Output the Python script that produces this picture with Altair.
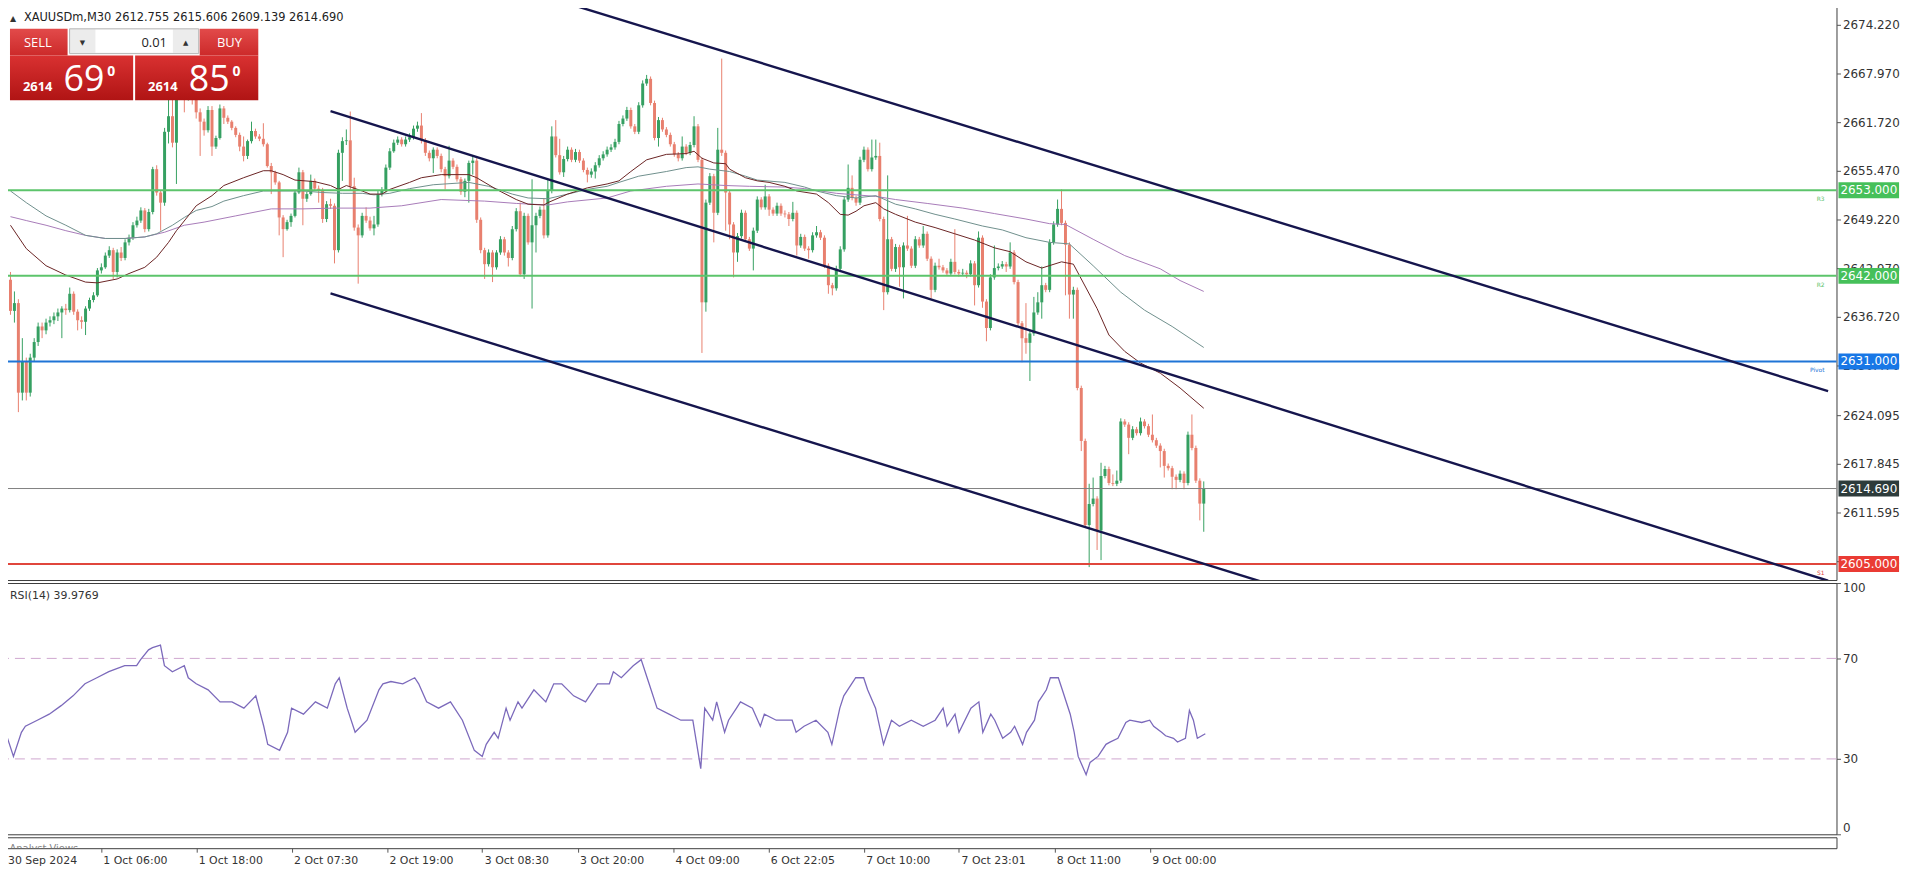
import altair as alt
import pandas as pd

FONT = "DejaVu Sans"
UIFONT = "Open Sans"

# ---------------- data ----------------
first_open = 2641.5
closes = [
    2637.5, 2638.5, 2627.0, 2631.0, 2627.0, 2631.5, 2633.5, 2635.5, 2635.0, 2636.0,
    2636.3, 2636.8, 2637.3, 2637.8, 2637.6, 2639.7, 2637.4, 2636.3, 2636.1, 2637.8,
    2638.9, 2639.5, 2642.7, 2643.1, 2644.6, 2645.3, 2642.5, 2645.0, 2644.3, 2646.3,
    2646.9, 2648.5, 2649.1, 2650.4, 2648.0, 2650.2, 2655.7, 2652.7, 2651.4, 2660.5,
    2662.5, 2659.1, 2665.5, 2666.5, 2665.5, 2666.0, 2665.0, 2663.0, 2661.8, 2660.7,
    2663.3, 2658.6, 2659.7, 2663.5, 2662.3, 2661.8, 2661.0, 2660.1, 2658.6, 2657.4,
    2659.3, 2660.6, 2659.9, 2659.6, 2658.9, 2656.1, 2655.3, 2654.0, 2649.5, 2648.0,
    2648.9, 2649.7, 2652.7, 2655.3, 2651.9, 2652.5, 2654.2, 2653.2, 2653.0, 2649.3,
    2651.2, 2651.0, 2645.3, 2657.8, 2659.3, 2659.4, 2653.5, 2648.2, 2647.2, 2649.7,
    2649.1, 2648.1, 2648.6, 2652.5, 2653.0, 2655.9, 2658.0, 2659.1, 2659.5, 2658.9,
    2659.5, 2659.8, 2660.9, 2661.3, 2659.4, 2657.8, 2657.1, 2658.2, 2657.4, 2655.7,
    2654.8, 2656.8, 2656.0, 2654.4, 2652.8, 2654.2, 2656.5, 2656.8, 2649.2, 2645.3,
    2643.5, 2645.0, 2643.1, 2645.0, 2646.7, 2645.0, 2644.3, 2648.0, 2650.3, 2642.2,
    2649.7, 2646.3, 2648.5, 2649.7, 2650.5, 2647.2, 2652.9, 2659.9, 2657.5, 2655.3,
    2657.0, 2658.2, 2656.9, 2657.9, 2656.8, 2655.6, 2655.0, 2655.4, 2656.2, 2657.1,
    2657.6, 2658.2, 2658.5, 2659.2, 2661.5, 2662.2, 2663.3, 2661.2, 2660.5, 2663.9,
    2666.7, 2667.3, 2664.2, 2659.7, 2662.0, 2660.8, 2660.1, 2658.9, 2657.6, 2657.1,
    2658.6, 2657.8, 2658.8, 2661.2, 2656.9, 2638.6, 2651.4, 2654.8, 2650.1, 2658.2,
    2657.8, 2652.7, 2648.6, 2645.0, 2647.1, 2650.1, 2646.7, 2645.5, 2647.8, 2651.8,
    2650.8, 2652.2, 2650.5, 2650.0, 2651.0, 2650.0, 2649.9, 2649.3, 2650.1, 2645.9,
    2647.0, 2645.5, 2645.3, 2647.2, 2647.6, 2646.9, 2643.3, 2640.8, 2640.4, 2642.9,
    2645.4, 2651.8, 2653.3, 2652.0, 2651.4, 2656.9, 2658.2, 2655.7, 2657.2, 2657.4,
    2649.3, 2639.9, 2646.7, 2642.9, 2645.7, 2643.1, 2645.9, 2645.5, 2643.3, 2646.7,
    2645.9, 2647.4, 2644.2, 2640.2, 2643.3, 2643.1, 2642.7, 2642.3, 2643.8, 2642.5,
    2642.3, 2642.4, 2642.2, 2643.6, 2640.8, 2646.9, 2638.7, 2635.3, 2641.8, 2643.0,
    2643.2, 2643.5, 2643.2, 2645.0, 2641.2, 2635.9, 2634.0, 2633.4, 2634.6, 2637.3,
    2638.6, 2640.8, 2640.2, 2646.3, 2648.6, 2650.6, 2648.8, 2646.0, 2639.6, 2640.2,
    2627.6, 2620.8, 2610.0, 2612.7, 2613.4, 2609.3, 2616.3, 2617.2, 2615.4, 2615.3,
    2615.7, 2623.3, 2622.9, 2621.2, 2622.3, 2621.8, 2623.3, 2622.7, 2621.6, 2620.9,
    2620.2, 2619.5, 2617.6, 2617.3, 2616.2, 2615.8, 2616.6, 2615.4, 2621.6, 2619.9,
    2615.7, 2612.755, 2614.69,
]
highs = [
    2642.5, 2640.0, 2639.0, 2634.0, 2631.5, 2632.0, 2634.0, 2636.0, 2636.0, 2636.5,
    2636.8, 2637.3, 2637.8, 2638.1, 2638.4, 2640.5, 2640.0, 2637.7, 2636.8, 2638.1,
    2639.2, 2639.9, 2643.0, 2643.6, 2645.0, 2645.8, 2645.6, 2645.4, 2645.7, 2646.7,
    2647.3, 2648.9, 2649.6, 2650.8, 2650.7, 2650.6, 2656.0, 2656.2, 2653.0, 2661.0,
    2665.5, 2666.0, 2666.5, 2667.5, 2667.0, 2667.0, 2666.8, 2665.5, 2663.5, 2662.2,
    2663.8, 2663.8, 2660.0, 2664.0, 2663.8, 2662.6, 2662.0, 2661.2, 2660.4, 2659.9,
    2659.5, 2661.8, 2660.9, 2660.2, 2661.6, 2659.1, 2656.5, 2655.5, 2654.2, 2649.8,
    2649.2, 2650.0, 2653.0, 2655.9, 2655.6, 2652.8, 2655.0, 2654.5, 2653.6, 2653.3,
    2651.6, 2651.9, 2651.3, 2658.2, 2659.8, 2660.8, 2663.1, 2654.6, 2648.6, 2650.1,
    2650.8, 2649.6, 2649.7, 2652.9, 2653.4, 2656.3, 2658.4, 2659.5, 2659.9, 2659.8,
    2659.9, 2660.3, 2661.3, 2661.8, 2662.9, 2659.7, 2658.1, 2658.5, 2658.5, 2657.7,
    2656.0, 2658.7, 2657.1, 2656.3, 2654.7, 2654.5, 2656.8, 2657.4, 2657.1, 2649.5,
    2645.6, 2645.4, 2645.3, 2645.3, 2647.1, 2647.0, 2645.3, 2648.4, 2650.7, 2651.4,
    2650.1, 2650.0, 2654.4, 2650.1, 2650.9, 2652.0, 2654.4, 2661.2, 2662.0, 2659.6,
    2657.4, 2658.6, 2658.5, 2658.3, 2658.2, 2657.1, 2655.9, 2655.8, 2656.6, 2657.5,
    2658.0, 2658.6, 2658.9, 2659.6, 2661.9, 2662.6, 2663.7, 2663.6, 2661.5, 2664.3,
    2667.1, 2667.8, 2667.6, 2664.5, 2662.4, 2662.3, 2661.1, 2660.4, 2659.2, 2657.9,
    2659.9, 2658.9, 2659.2, 2662.5, 2661.5, 2657.2, 2651.8, 2655.2, 2655.1, 2661.0,
    2669.9, 2658.1, 2653.0, 2648.9, 2647.5, 2650.5, 2650.4, 2647.0, 2648.2, 2652.2,
    2652.1, 2653.7, 2652.5, 2650.8, 2651.4, 2651.3, 2650.4, 2650.2, 2651.5, 2650.4,
    2647.4, 2647.3, 2645.8, 2647.6, 2648.4, 2647.9, 2647.2, 2643.6, 2641.1, 2643.3,
    2645.8, 2652.2, 2656.3, 2654.9, 2652.3, 2657.3, 2658.6, 2658.5, 2659.5, 2659.5,
    2659.1, 2649.6, 2654.9, 2647.0, 2646.1, 2646.0, 2646.3, 2649.7, 2645.8, 2647.1,
    2647.0, 2648.4, 2647.7, 2644.5, 2643.7, 2644.2, 2643.4, 2643.0, 2644.2, 2648.0,
    2642.8, 2642.9, 2642.7, 2644.0, 2643.9, 2647.7, 2647.2, 2639.0, 2642.2, 2645.9,
    2643.6, 2643.9, 2643.8, 2646.3, 2645.3, 2641.5, 2636.2, 2638.5, 2635.0, 2639.3,
    2639.9, 2643.2, 2641.1, 2646.7, 2649.0, 2651.8, 2653.1, 2649.1, 2646.3, 2640.6,
    2640.5, 2627.9, 2621.1, 2615.3, 2616.1, 2613.7, 2618.0, 2617.6, 2617.5, 2616.5,
    2617.0, 2623.7, 2623.6, 2623.2, 2622.7, 2622.6, 2623.8, 2623.6, 2623.0, 2624.2,
    2621.2, 2620.5, 2619.8, 2617.9, 2617.6, 2616.5, 2617.0, 2616.9, 2622.0, 2624.2,
    2620.2, 2616.0, 2615.606,
]
lows = [
    2637.0, 2636.0, 2624.5, 2626.0, 2626.0, 2626.5, 2631.0, 2633.0, 2634.0, 2634.5,
    2635.5, 2635.8, 2636.2, 2634.0, 2637.0, 2637.3, 2637.0, 2635.0, 2635.2, 2634.4,
    2637.5, 2638.6, 2639.3, 2642.3, 2642.9, 2644.3, 2641.6, 2641.8, 2643.9, 2644.0,
    2645.9, 2646.6, 2648.2, 2648.8, 2647.6, 2647.7, 2649.9, 2652.3, 2647.8, 2651.0,
    2659.0, 2658.5, 2653.8, 2665.0, 2663.0, 2664.5, 2664.0, 2662.2, 2657.4, 2660.0,
    2660.4, 2657.4, 2658.3, 2659.5, 2661.5, 2661.5, 2660.7, 2659.8, 2658.0, 2656.7,
    2657.0, 2659.0, 2659.6, 2659.3, 2658.6, 2655.9, 2652.5, 2653.7, 2647.2, 2644.4,
    2647.8, 2648.3, 2649.5, 2652.5, 2648.5, 2651.5, 2652.3, 2652.9, 2651.4, 2648.8,
    2648.9, 2650.6, 2643.6, 2645.0, 2654.2, 2658.8, 2653.0, 2647.8, 2641.0, 2646.9,
    2648.8, 2647.8, 2647.2, 2648.3, 2652.2, 2652.7, 2655.6, 2657.8, 2658.8, 2658.6,
    2658.6, 2659.2, 2659.5, 2660.5, 2659.0, 2657.4, 2656.7, 2655.2, 2657.1, 2655.3,
    2653.1, 2654.5, 2655.7, 2654.1, 2652.4, 2652.1, 2651.4, 2655.0, 2648.8, 2644.9,
    2641.6, 2643.2, 2641.2, 2642.8, 2644.7, 2644.6, 2643.2, 2644.0, 2647.7, 2641.9,
    2641.6, 2646.0, 2637.8, 2645.0, 2649.4, 2646.8, 2646.9, 2652.6, 2657.2, 2655.0,
    2654.7, 2656.7, 2656.6, 2656.6, 2656.5, 2655.3, 2654.0, 2654.6, 2654.5, 2655.9,
    2656.8, 2657.3, 2657.9, 2658.2, 2658.9, 2661.2, 2661.9, 2660.9, 2660.2, 2660.2,
    2663.6, 2666.4, 2663.9, 2659.4, 2658.6, 2660.5, 2659.8, 2658.6, 2657.3, 2656.7,
    2656.8, 2657.5, 2657.5, 2658.5, 2656.6, 2632.1, 2637.4, 2651.1, 2646.3, 2649.8,
    2657.4, 2647.8, 2646.7, 2641.8, 2643.8, 2646.8, 2646.4, 2645.2, 2642.7, 2647.5,
    2650.5, 2650.5, 2649.7, 2649.7, 2649.7, 2649.7, 2649.5, 2648.4, 2649.0, 2644.6,
    2645.6, 2645.2, 2644.2, 2645.0, 2646.9, 2646.6, 2643.0, 2639.7, 2639.5, 2640.1,
    2642.6, 2645.1, 2651.5, 2651.7, 2651.0, 2651.1, 2656.6, 2655.4, 2655.4, 2656.9,
    2649.0, 2637.6, 2639.6, 2642.6, 2642.5, 2640.6, 2639.1, 2645.2, 2643.0, 2643.0,
    2645.6, 2645.6, 2643.9, 2639.1, 2639.9, 2642.8, 2642.4, 2642.0, 2642.0, 2642.2,
    2641.9, 2642.0, 2641.7, 2641.9, 2638.2, 2640.5, 2637.9, 2633.6, 2635.0, 2641.5,
    2642.7, 2642.9, 2642.5, 2642.9, 2640.9, 2635.6, 2630.9, 2632.0, 2628.5, 2634.3,
    2637.0, 2636.5, 2639.9, 2639.9, 2646.0, 2648.3, 2648.5, 2639.5, 2636.5, 2636.5,
    2627.3, 2619.5, 2609.7, 2604.6, 2612.4, 2606.8, 2605.5, 2616.0, 2615.1, 2615.0,
    2615.0, 2615.4, 2622.6, 2619.1, 2620.9, 2621.5, 2621.5, 2622.4, 2621.3, 2620.6,
    2619.9, 2617.4, 2616.1, 2617.0, 2614.6, 2614.6, 2615.5, 2614.6, 2615.1, 2619.6,
    2615.4, 2610.6, 2609.139,
]

# moving averages: (candle index, value)
ma_fast = [(0, 2648.5), (4, 2645.5), (9, 2643.3), (14, 2642.1), (19, 2641.2), (22, 2641.1),
           (27, 2641.6), (30, 2642.3), (34, 2643.1), (37, 2644.4), (40, 2646.3), (42, 2647.8),
           (45, 2649.7), (47, 2651.0), (51, 2652.3), (54, 2653.6), (59, 2654.6), (64, 2655.5),
           (66, 2655.5), (69, 2655.0), (72, 2654.3), (77, 2654.1), (81, 2653.6), (83, 2653.1),
           (85, 2653.6), (89, 2652.9), (91, 2652.5), (94, 2652.5), (96, 2653.1), (101, 2654.0),
           (104, 2654.6), (109, 2655.0), (116, 2655.0), (118, 2654.6), (123, 2653.1),
           (128, 2651.8), (131, 2651.2), (135, 2651.1), (136, 2651.4), (141, 2652.5),
           (146, 2653.3), (151, 2653.8), (154, 2654.2), (157, 2655.4), (161, 2656.9),
           (166, 2657.6), (171, 2657.7), (173, 2658.0), (175, 2657.1), (178, 2656.5),
           (181, 2656.4), (182, 2655.7), (186, 2654.6), (189, 2654.2), (192, 2654.0),
           (196, 2653.5), (199, 2652.9), (204, 2652.5), (207, 2651.4), (210, 2649.9),
           (212, 2649.8), (214, 2650.3), (216, 2651.0), (219, 2651.4), (221, 2650.6),
           (224, 2649.9), (229, 2648.9), (234, 2648.2), (239, 2647.4), (244, 2646.6),
           (249, 2645.6), (253, 2645.1), (257, 2643.8), (261, 2643.0), (266, 2643.8),
           (269, 2643.5), (271, 2641.6), (275, 2637.8), (278, 2634.4), (282, 2632.3),
           (286, 2630.8), (291, 2629.5), (296, 2627.6), (302, 2625.0)]
ma_mid = [(0, 2652.9), (4, 2651.4), (9, 2649.7), (14, 2648.5), (19, 2647.2), (24, 2646.8),
          (29, 2646.8), (34, 2647.0), (37, 2647.4), (41, 2648.5), (44, 2649.5), (47, 2650.4),
          (51, 2650.9), (54, 2651.6), (59, 2652.3), (64, 2652.9), (74, 2652.9), (79, 2652.7),
          (84, 2652.6), (89, 2652.6), (92, 2652.4), (96, 2652.6), (101, 2653.2), (107, 2653.7),
          (116, 2654.0), (121, 2653.5), (127, 2652.5), (131, 2652.0), (136, 2651.9),
          (141, 2652.5), (146, 2653.1), (151, 2653.5), (154, 2654.0), (159, 2654.8),
          (166, 2655.4), (171, 2655.9), (174, 2656.0), (177, 2655.7), (182, 2655.4),
          (186, 2654.8), (189, 2654.3), (196, 2654.0), (201, 2653.4), (204, 2652.9),
          (209, 2652.3), (214, 2652.0), (219, 2652.3), (224, 2651.2), (229, 2650.6),
          (234, 2649.9), (239, 2649.3), (246, 2648.4), (251, 2647.9), (257, 2646.9),
          (263, 2646.3), (268, 2646.1), (274, 2643.3), (281, 2639.9), (287, 2637.6),
          (294, 2635.5), (302, 2632.8)]
ma_slow = [(0, 2649.6), (4, 2649.1), (9, 2648.5), (14, 2647.8), (19, 2647.2), (24, 2646.8),
           (29, 2646.8), (34, 2647.0), (39, 2647.6), (44, 2648.5), (49, 2648.9), (57, 2649.7),
           (66, 2650.6), (74, 2650.6), (82, 2650.7), (91, 2650.7), (99, 2651.0), (109, 2651.8),
           (120, 2651.6), (128, 2651.3), (136, 2651.1), (141, 2651.5), (151, 2652.0),
           (157, 2652.9), (166, 2653.5), (174, 2653.8), (181, 2653.6), (187, 2653.5),
           (196, 2653.4), (201, 2653.2), (209, 2652.6), (219, 2652.2), (224, 2651.8),
           (232, 2651.3), (241, 2650.7), (249, 2650.0), (257, 2649.3), (263, 2648.7),
           (267, 2648.6), (274, 2646.7), (282, 2644.6), (291, 2642.9), (296, 2641.4),
           (302, 2640.0)]

# RSI(14): (candle index, value)
rsi_pts = [(0, 40.6), (2, 31.0), (4, 40.6), (5, 43.0), (8, 45.4), (11, 47.8), (14, 51.2),
           (17, 55.1), (20, 59.9), (23, 62.3), (26, 64.7), (30, 67.1), (33, 67.1), (34, 69.5),
           (36, 73.4), (37, 74.3), (39, 75.3), (40, 67.1), (42, 64.7), (45, 67.1), (46, 62.3),
           (48, 59.9), (51, 57.5), (54, 52.7), (57, 52.7), (60, 50.2), (63, 55.1), (65, 43.0),
           (66, 35.8), (69, 33.4), (71, 40.6), (72, 50.2), (75, 47.8), (78, 52.7), (81, 50.2),
           (83, 59.9), (84, 62.3), (86, 50.2), (88, 40.6), (91, 45.4), (94, 57.5), (95, 59.9),
           (97, 60.8), (100, 59.9), (103, 62.3), (104, 59.9), (106, 52.7), (109, 50.2),
           (112, 52.7), (115, 45.4), (118, 33.4), (120, 31.0), (121, 35.8), (123, 40.6),
           (124, 38.2), (126, 50.2), (127, 45.4), (129, 52.7), (130, 50.2), (133, 57.5),
           (136, 52.7), (138, 59.9), (140, 59.9), (143, 55.1), (146, 52.7), (149, 59.9),
           (152, 59.9), (153, 64.7), (155, 62.3), (158, 67.1), (160, 69.5), (162, 59.9),
           (164, 50.2), (167, 47.8), (170, 45.4), (173, 45.4), (175, 26.1), (176, 50.2),
           (178, 45.4), (179, 52.7), (181, 40.6), (182, 45.4), (184, 50.2), (185, 52.7),
           (188, 50.2), (190, 43.0), (191, 47.8), (194, 45.4), (198, 45.4), (199, 40.6),
           (201, 43.0), (204, 45.4), (207, 40.6), (208, 35.8), (210, 50.2), (211, 55.1),
           (214, 62.3), (216, 62.3), (217, 57.5), (219, 50.2), (221, 35.8), (222, 40.6),
           (223, 45.4), (225, 43.0), (228, 45.4), (231, 43.0), (234, 45.4), (236, 50.2),
           (237, 43.0), (239, 47.8), (240, 40.6), (243, 50.2), (245, 52.7), (246, 40.6),
           (248, 47.8), (249, 45.4), (251, 38.2), (253, 40.6), (254, 43.0), (256, 35.8),
           (257, 40.6), (259, 45.4), (260, 52.7), (262, 57.5), (263, 62.3), (265, 62.3),
           (266, 57.5), (268, 47.8), (269, 40.6), (270, 31.0), (272, 23.7), (273, 28.6),
           (275, 31.0), (277, 35.8), (278, 36.7), (280, 38.2), (282, 44.5), (283, 45.4),
           (286, 44.5), (288, 45.4), (289, 43.0), (291, 40.6), (292, 39.2), (294, 38.2),
           (295, 36.7), (297, 38.2), (298, 49.3), (299, 45.4), (300, 38.2), (302, 40.0)]

levels = [2653.0, 2642.0, 2631.0, 2614.69, 2605.0]
level_text = ["2653.000", "2642.000", "2631.000", "2614.690", "2605.000"]
level_tags = ["R3", "R2", "Pivot", "", "S1"]
level_line_colors = ["#5cc46b", "#5cc46b", "#1f74d6", "#808080", "#e0463c"]
level_box_colors = ["#46c05a", "#46c05a", "#1877e6", "#2d3b3b", "#ea3b34"]
level_widths = [2, 2, 2, 1, 2]

channel_lines = {
    "upper": [(130, 2678.7), (460, 2627.2)],
    "middle": [(81, 2663.15), (460, 2602.85)],
    "lower": [(81, 2639.74), (320, 2602.2)],
}

price_ticks = [2674.22, 2667.97, 2661.72, 2655.47, 2649.22, 2642.97, 2636.72, 2630.47,
               2624.095, 2617.845, 2611.595, 2605.345]
rsi_ticks = [0, 30, 70, 100]
rsi_levels = [70, 30]
time_ticks = [0, 24, 48, 72, 96, 120, 144, 168, 192, 216, 240, 264, 288]
time_labels = ["30 Sep 2024", "1 Oct 06:00", "1 Oct 18:00", "2 Oct 07:30", "2 Oct 19:00",
               "3 Oct 08:30", "3 Oct 20:00", "4 Oct 09:00", "6 Oct 22:05", "7 Oct 10:00",
               "7 Oct 23:01", "8 Oct 11:00", "9 Oct 00:00"]

header = "XAUUSDm,M30 2612.755 2615.606 2609.139 2614.690"
rsi_title = "RSI(14) 39.9769"

# ---------------- build tables ----------------
GREEN = "#36a062"
RED = "#e8806f"
opens = [first_open] + closes[:-1]
cd = pd.DataFrame({"k": list(range(len(closes))), "o": opens, "c": closes,
                   "h": highs, "l": lows})
cd["col"] = [GREEN if c >= o else RED for o, c in zip(cd["o"], cd["c"])]

ma_rows = []
for name, pts, col in [("slow", ma_slow, "#a77bb8"), ("mid", ma_mid, "#6f8f8c"),
                       ("fast", ma_fast, "#6a2323")]:
    for k, v in pts:
        ma_rows.append({"ma": name, "k": k, "p": v, "col": col})
ma_df = pd.DataFrame(ma_rows)

ch_rows = []
for name, pts in channel_lines.items():
    for k, v in pts:
        ch_rows.append({"id": name, "k": k, "p": v})
ch_df = pd.DataFrame(ch_rows)

lv = pd.DataFrame({"p": levels, "txt": level_text, "tag": level_tags,
                   "lc": level_line_colors, "bc": level_box_colors, "w": level_widths})
rsi_df = pd.DataFrame(rsi_pts, columns=["k", "v"])
one = pd.DataFrame({"z": [0]})

# ---------------- scales / axes ----------------
W, HM, HR, HA = 1844, 577, 253, 11
xs = alt.Scale(domain=[-0.125, 460.875], nice=False, zero=False)
ys = alt.Scale(domain=[2602.94, 2676.53], nice=False, zero=False)
rs = alt.Scale(domain=[0, 100], nice=False, zero=False)

yaxis = alt.Axis(orient="right", values=price_ticks, format=".3f", labelFont=FONT,
                 labelFontSize=12, labelColor="#333333", tickColor="#555555", tickSize=4,
                 labelPadding=2, domain=False, grid=False, title=None, labelOverlap=False)
raxis = alt.Axis(orient="right", values=rsi_ticks, format="d", labelFont=FONT,
                 labelFontSize=12, labelColor="#333333", tickColor="#555555", tickSize=4,
                 labelPadding=2, domain=False, grid=False, title=None, labelFlush=True,
                 labelOverlap=False)
label_expr = "[" + ",".join("'%s'" % t for t in time_labels) + "][round(datum.value/24)]"
xaxis = alt.Axis(orient="bottom", values=time_ticks, labelExpr=label_expr, labelAlign="left",
                 labelOffset=2, labelFont=FONT, labelFontSize=11, labelColor="#333333",
                 tickColor="#555555", tickSize=4, labelPadding=2, domain=False, grid=False,
                 title=None, labelOverlap=False, labelFlush=False)


def X(f):
    return alt.X(f, type="quantitative", scale=xs, axis=None)


def Y(f):
    return alt.Y(f, type="quantitative", scale=ys, axis=yaxis)


# ---------------- main price panel ----------------
wicks = alt.Chart(cd).mark_rule(strokeWidth=1).encode(
    x=X("k"), y=Y("l"), y2="h", color=alt.Color("col:N", scale=None))
bodies = alt.Chart(cd).mark_bar(size=3).encode(
    x=X("k"), y=Y("o"), y2="c", color=alt.Color("col:N", scale=None))
mas = alt.Chart(ma_df).mark_line(strokeWidth=1, clip=True).encode(
    x=X("k"), y=Y("p"), detail="ma:N", color=alt.Color("col:N", scale=None))
hl = alt.Chart(lv).mark_rule().encode(
    y=Y("p"), color=alt.Color("lc:N", scale=None),
    strokeWidth=alt.StrokeWidth("w:Q", scale=None))
chan = alt.Chart(ch_df).mark_line(strokeWidth=2.4, color="#15154d", clip=True).encode(
    x=X("k"), y=Y("p"), detail="id:N")
tags = alt.Chart(lv).mark_text(align="right", baseline="middle", fontSize=6, dy=9,
                               font=FONT).encode(
    x=alt.value(1832), y=Y("p"), text="tag:N", color=alt.Color("lc:N", scale=None))
boxes = alt.Chart(lv).mark_rule(strokeWidth=16).encode(
    x=alt.value(1846), x2=alt.value(1907), y=Y("p"), color=alt.Color("bc:N", scale=None))
box_txt = alt.Chart(lv).mark_text(align="left", baseline="middle", font=FONT, fontSize=12,
                                  color="white").encode(
    x=alt.value(1848), y=Y("p"), text="txt:N")

# trading panel / header (pure decoration)
grad = alt.LinearGradient(gradient="linear", x1=0, x2=0, y1=0, y2=1,
                          stops=[alt.GradientStop(color="#d93131", offset=0),
                                 alt.GradientStop(color="#b01414", offset=1)])
sgrad = alt.LinearGradient(gradient="linear", x1=0, x2=0, y1=0, y2=1,
                           stops=[alt.GradientStop(color="#e24a4a", offset=0),
                                  alt.GradientStop(color="#cc2a2a", offset=1)])


def rect(x1, x2, y1, y2, fill, stroke=None):
    kw = {"color": fill}
    if stroke:
        kw["stroke"] = stroke
        kw["strokeWidth"] = 1
    return alt.Chart(one).mark_rect(**kw).encode(
        x=alt.value(x1), x2=alt.value(x2), y=alt.value(y1), y2=alt.value(y2))


def txt(x, y, s, size, color, align="left", weight="normal", font=UIFONT, baseline="alphabetic"):
    return alt.Chart(one).mark_text(align=align, baseline=baseline, fontSize=size, color=color,
                                    fontWeight=weight, font=font).encode(
        x=alt.value(x), y=alt.value(y), text=alt.value(s))


ui = [
    txt(5, 14, "▲", 8, "#333333", font=FONT),
    txt(19, 14, header, 11.5, "#222222", font=FONT),
    rect(5, 63, 22, 49, sgrad),
    rect(65, 195, 22, 47, "#ececec", "#b5b5b5"),
    rect(91, 169, 23, 46, "#ffffff"),
    rect(196, 255, 22, 49, sgrad),
    rect(5, 129, 49, 94, grad),
    rect(131, 255, 49, 94, grad),
    txt(33, 40, "SELL", 13, "white", align="center"),
    txt(226, 40, "BUY", 13, "white", align="center"),
    txt(163, 40, "0.01", 13, "#222222", align="right"),
    txt(78, 38, "▼", 7, "#333333", align="center", font=FONT),
    txt(182, 38, "▲", 7, "#333333", align="center", font=FONT),
    txt(18, 85, "2614", 13, "white", weight="bold"),
    txt(59, 85, "69", 36, "white"),
    txt(103, 70, "0", 14, "white", weight="bold"),
    txt(144, 85, "2614", 13, "white", weight="bold"),
    txt(185, 85, "85", 36, "white"),
    txt(229, 70, "0", 14, "white", weight="bold"),
]

main = alt.layer(bodies, wicks, mas, hl, chan, tags, boxes, box_txt, *ui).properties(
    width=W, height=HM)

# ---------------- RSI panel ----------------
rsi_lv = alt.Chart(pd.DataFrame({"v": rsi_levels})).mark_rule(
    strokeDash=[10, 6], color="#cfa6cf", strokeWidth=1).encode(
    y=alt.Y("v:Q", scale=rs, axis=raxis))
rsi_line = alt.Chart(rsi_df).mark_line(color="#7b69bb", strokeWidth=1.3).encode(
    x=X("k"), y=alt.Y("v:Q", scale=rs, axis=raxis))
rsi_lab = txt(5, 13, rsi_title, 11, "#333333", font=FONT, baseline="middle")
rsi = alt.layer(rsi_lv, rsi_line, rsi_lab).properties(width=W, height=HR)

# ---------------- bottom strip with time axis ----------------
strip = alt.Chart(pd.DataFrame({"k": [0]})).mark_text(
    align="left", baseline="middle", fontSize=10, color="#888888", font=FONT, dx=4,
    clip=True).encode(
    x=alt.X("k:Q", scale=xs, axis=xaxis), y=alt.value(12), text=alt.value("Analyst Views")
).properties(width=W, height=HA)

chart = alt.vconcat(main, rsi, strip, spacing=3, bounds="flush").properties(
    padding={"left": -6, "top": -5, "right": 0, "bottom": 0}, background="white"
).configure_view(stroke="#3c3c3c", strokeWidth=1)

chart.save("out.html", embed_options={"renderer": "svg", "actions": False})
